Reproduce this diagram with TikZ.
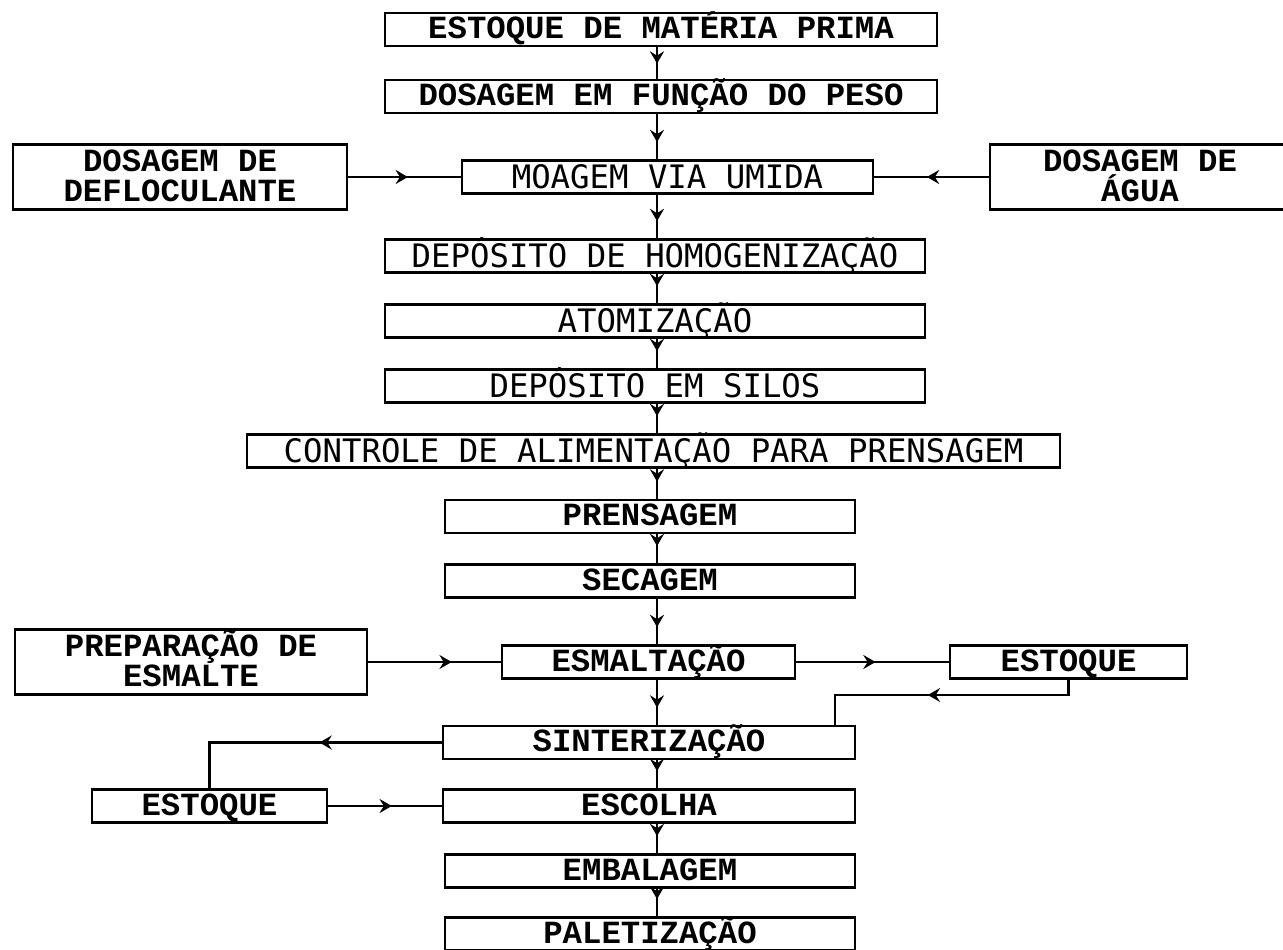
\documentclass[tikz,border=0pt]{standalone}
\usepackage{fontspec}
\setmonofont{Liberation Mono}
\newfontfamily\condmono{DejaVu Sans Mono}
\usetikzlibrary{arrows.meta,decorations.markings}

\tikzset{
  box/.style={draw, line width=1.6pt, inner sep=0pt, minimum height=0.66cm, align=center},
  tallbox/.style={box, minimum height=1.3cm},
  slab/.style={font=\ttfamily\bfseries\fontsize{18.4}{17.5}\selectfont, text height=10.8pt, text depth=0pt},
  cond/.style={font=\condmono\fontsize{18.4}{17}\selectfont, text height=13.2pt, text depth=0pt},
  twolines/.style={text height=28.3pt},
  flow/.style={line width=1.6pt, postaction={decorate},
    decoration={markings, mark=at position #1 with {\arrow{Stealth[length=7pt,width=8pt,inset=2.5pt]}}}},
}

\begin{document}
\begin{tikzpicture}[x=0.02cm, y=-0.02cm]
  \useasboundingbox (0,0) rectangle (1283,949);
  \coordinate (spine) at (657,0);
  % main column
  \node[box, slab, minimum width=11.04cm] (mp) at (661,29.5) {ESTOQUE DE MATÉRIA PRIMA};
  \node[box, slab, minimum width=11.04cm] (peso) at (661,96.5) {DOSAGEM EM FUNÇÃO DO PESO};
  \node[box, cond, minimum width=8.22cm] (moag) at (667.5,177) {MOAGEM VIA UMIDA};
  \node[box, cond, minimum width=10.8cm] (homog) at (655,256) {DEPÓSITO DE HOMOGENIZAÇÃO};
  \node[box, cond, minimum width=10.8cm] (atom) at (655,321) {ATOMIZAÇÃO};
  \node[box, cond, minimum width=10.8cm] (silos) at (655,386) {DEPÓSITO EM SILOS};
  \node[box, cond, minimum width=16.26cm] (ctrl) at (653.5,451) {CONTROLE DE ALIMENTAÇÃO PARA PRENSAGEM};
  \node[box, slab, minimum width=8.2cm] (prens) at (650,516.5) {PRENSAGEM};
  \node[box, slab, minimum width=8.2cm] (sec) at (650,581) {SECAGEM};
  \node[box, slab, minimum width=5.86cm] (esm) at (648.5,662) {ESMALTAÇÃO};
  \node[box, slab, minimum width=8.24cm] (sint) at (649,742.5) {SINTERIZAÇÃO};
  \node[box, slab, minimum width=8.24cm] (esc) at (649,806) {ESCOLHA};
  \node[box, slab, minimum width=8.2cm] (emb) at (650,871) {EMBALAGEM};
  \node[box, slab, minimum width=8.2cm] (pal) at (650,934) {PALETIZAÇÃO};
  % side boxes
  \node[tallbox, slab, twolines, minimum width=6.68cm] (defl) at (180,177) {DOSAGEM DE\\DEFLOCULANTE};
  \node[tallbox, slab, twolines, minimum width=6cm] (agua) at (1140,177) {DOSAGEM DE\\ÁGUA};
  \node[tallbox, slab, twolines, minimum width=7.04cm] (prep) at (191,662) {PREPARAÇÃO DE\\ESMALTE};
  \node[box, slab, minimum width=4.74cm] (estR) at (1068.5,662) {ESTOQUE};
  \node[box, slab, minimum width=4.7cm] (estL) at (209.5,806) {ESTOQUE};
  \coordinate (loopR) at (835,695);

  % vertical flow
  \draw[flow=-0.3cm] (mp.south -| spine) -- (peso.north -| spine);
  \draw[flow=-0.34cm] (peso.south -| spine) -- (moag.north -| spine);
  \draw[flow=-0.34cm] (moag.south -| spine) -- (homog.north -| spine);
  \draw[flow=-0.34cm] (homog.south -| spine) -- (atom.north -| spine);
  \draw[flow=-0.34cm] (atom.south -| spine) -- (silos.north -| spine);
  \draw[flow=-0.34cm] (silos.south -| spine) -- (ctrl.north -| spine);
  \draw[flow=-0.34cm] (ctrl.south -| spine) -- (prens.north -| spine);
  \draw[flow=-0.34cm] (prens.south -| spine) -- (sec.north -| spine);
  \draw[flow=-0.34cm] (sec.south -| spine) -- (esm.north -| spine);
  \draw[flow=-0.34cm] (esm.south -| spine) -- (sint.north -| spine);
  \draw[flow=-0.34cm] (sint.south -| spine) -- (esc.north -| spine);
  \draw[flow=-0.34cm] (esc.south -| spine) -- (emb.north -| spine);
  \draw[flow=-0.34cm] (emb.south -| spine) -- (pal.north -| spine);

  % side inputs and outputs
  \draw[flow=0.53] (defl.east) -- (moag.west);
  \draw[flow=0.54] (agua.west) -- (moag.east);
  \draw[flow=0.63] (prep.east) -- (esm.west);
  \draw[flow=0.52] (esm.east) -- (estR.west);
  \draw[flow=0.56] (estR.south) |- (loopR) -- (loopR |- sint.north);
  \draw[flow=0.44] (sint.west) -| (estL.north);
  \draw[flow=0.56] (estL.east) -- (esc.west);
\end{tikzpicture}
\end{document}
